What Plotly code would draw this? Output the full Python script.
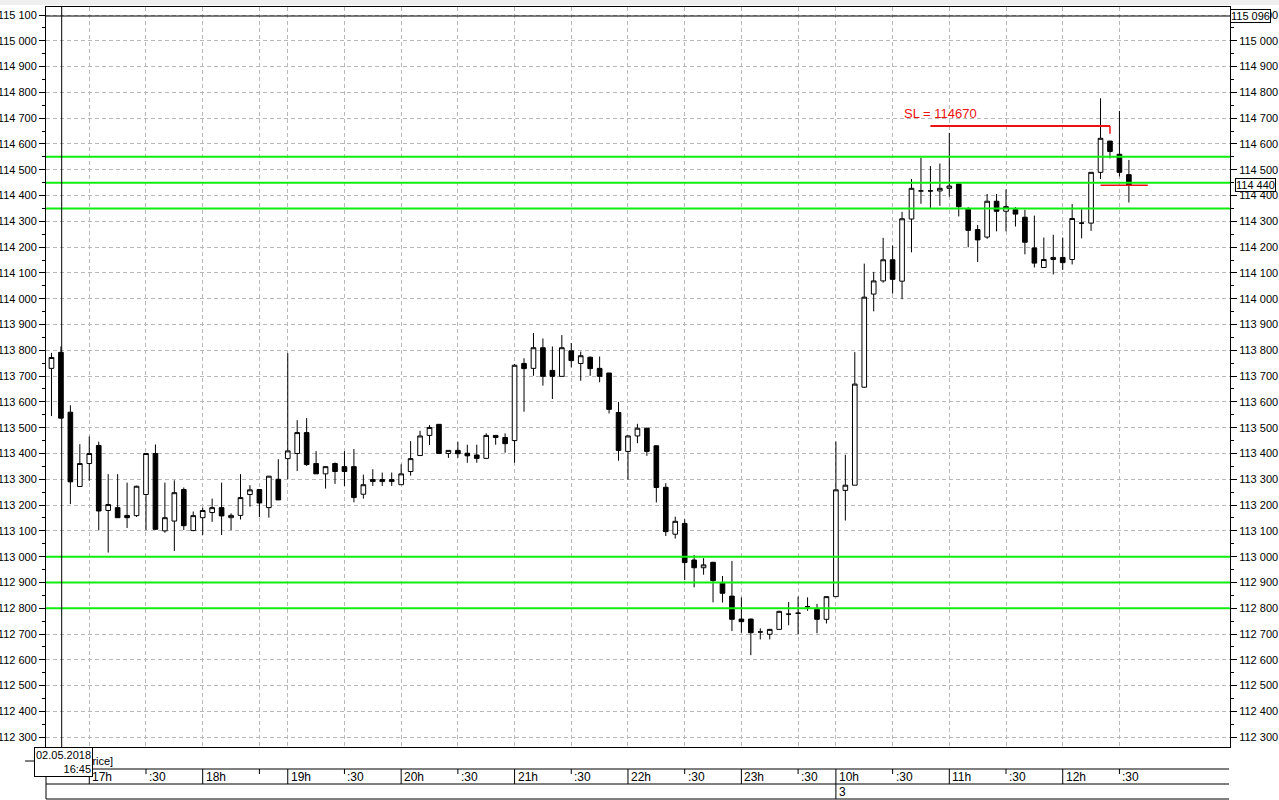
import pandas as pd
import plotly.graph_objects as go

# 5-minute candles, 02.05.2018 16:40 -> 03.05.2018 12:35 (sessions only)
sessions = [
    ("2018-05-02 16:40", "2018-05-02 18:40"),
    ("2018-05-02 19:00", "2018-05-02 23:45"),
    ("2018-05-03 10:00", "2018-05-03 12:35"),
]
times = pd.DatetimeIndex([])
for start, end in sessions:
    times = times.append(pd.date_range(start, end, freq="5min"))

opens = [113730, 113792, 113560, 113272, 113361, 113431, 113179, 113190, 113160, 113159,
         113241, 113400, 113100, 113138, 113260, 113101, 113151, 113171, 113190, 113151,
         113160, 113241, 113260, 113190, 113300, 113380, 113400, 113481, 113361, 113321,
         113361, 113349, 113349, 113242, 113291, 113291, 113291, 113279, 113330, 113392,
         113470, 113513, 113400, 113412, 113401, 113394, 113381, 113470, 113462, 113450,
         113749, 113730, 113810, 113722, 113699, 113798, 113749, 113773, 113730, 113712,
         113559, 113408, 113468, 113498, 113430, 113269, 113087, 113129, 112987, 112957,
         112978, 112897, 112847, 112758, 112758, 112708, 112699, 112718, 112777, 112780,
         112806, 112796, 112757, 112845, 113257, 113277, 113657, 114018, 114069, 114151,
         114068, 114309, 114418, 114418, 114418, 114428, 114445, 114347, 114268, 114239,
         114378, 114339, 114345, 114316, 114197, 114121, 114152, 114160, 114152, 114293,
         114293, 114490, 114611, 114560, 114481]
highs = [113790, 113815, 113587, 113436, 113466, 113446, 113320, 113320, 113287, 113275,
         113402, 113435, 113287, 113296, 113268, 113175, 113190, 113225, 113287, 113168,
         113320, 113277, 113262, 113312, 113378, 113789, 113529, 113537, 113409, 113349,
         113365, 113409, 113417, 113318, 113339, 113326, 113326, 113358, 113448, 113488,
         113510, 113513, 113412, 113445, 113434, 113434, 113478, 113470, 113478, 113747,
         113769, 113867, 113846, 113815, 113859, 113828, 113795, 113776, 113776, 113712,
         113600, 113470, 113515, 113500, 113430, 113285, 113155, 113145, 113006, 112994,
         112980, 112925, 112983, 112842, 112760, 112722, 112720, 112790, 112824, 112845,
         112842, 112817, 112845, 113446, 113395, 113793, 114136, 114104, 114236, 114206,
         114337, 114464, 114546, 114514, 114524, 114643, 114448, 114355, 114286, 114406,
         114406, 114424, 114355, 114345, 114322, 114237, 114248, 114237, 114367, 114347,
         114490, 114777, 114612, 114728, 114538]
lows = [113545, 113535, 113204, 113270, 113294, 113103, 113016, 113150, 113111, 113154,
        113103, 113103, 113093, 113022, 113103, 113100, 113084, 113135, 113084, 113103,
        113144, 113194, 113153, 113151, 113220, 113300, 113332, 113352, 113321, 113264,
        113282, 113274, 113211, 113225, 113274, 113274, 113274, 113279, 113314, 113392,
        113433, 113400, 113383, 113383, 113364, 113364, 113381, 113434, 113403, 113364,
        113562, 113701, 113663, 113611, 113699, 113734, 113682, 113701, 113676, 113555,
        113372, 113298, 113440, 113391, 113210, 113080, 113070, 112909, 112881, 112930,
        112823, 112822, 112712, 112705, 112618, 112679, 112679, 112718, 112734, 112700,
        112790, 112703, 112741, 112845, 113140, 113277, 113655, 113951, 114062, 114020,
        113998, 114180, 114368, 114352, 114360, 114396, 114319, 114199, 114142, 114232,
        114261, 114261, 114280, 114172, 114121, 114121, 114094, 114112, 114133, 114234,
        114263, 114464, 114544, 114474, 114373]
closes = [113772, 113537, 113290, 113361, 113400, 113177, 113202, 113151, 113151, 113273,
          113400, 113106, 113151, 113248, 113120, 113159, 113179, 113190, 113158, 113160,
          113229, 113259, 113208, 113312, 113220, 113410, 113481, 113357, 113321, 113349,
          113330, 113330, 113229, 113279, 113299, 113299, 113299, 113321, 113380, 113468,
          113501, 113400, 113412, 113399, 113391, 113381, 113470, 113462, 113438, 113742,
          113729, 113810, 113699, 113699, 113810, 113760, 113779, 113729, 113699, 113571,
          113412, 113468, 113498, 113408, 113268, 113097, 113137, 112977, 112957, 112968,
          112907, 112858, 112757, 112748, 112705, 112708, 112718, 112788, 112777, 112781,
          112806, 112757, 112845, 113259, 113277, 113669, 114006, 114069, 114151, 114075,
          114310, 114428, 114418, 114418, 114428, 114437, 114357, 114265, 114228, 114378,
          114339, 114357, 114328, 114219, 114138, 114152, 114160, 114140, 114311, 114293,
          114490, 114622, 114571, 114490, 114440]

# time-axis ticks (label "" = tick without text)
tick_times = ["2018-05-02 17:00", "2018-05-02 17:30", "2018-05-02 18:00", "2018-05-02 18:30",
              "2018-05-02 19:00", "2018-05-02 19:30", "2018-05-02 20:00", "2018-05-02 20:30",
              "2018-05-02 21:00", "2018-05-02 21:30", "2018-05-02 22:00", "2018-05-02 22:30",
              "2018-05-02 23:00", "2018-05-02 23:30", "2018-05-03 10:00", "2018-05-03 10:30",
              "2018-05-03 11:00", "2018-05-03 11:30", "2018-05-03 12:00", "2018-05-03 12:30"]
tick_labels = ["17h", ":30", "18h", "", "19h", ":30", "20h", ":30", "21h", ":30", "22h", ":30",
               "23h", ":30", "10h", ":30", "11h", ":30", "12h", ":30"]

# levels
green_levels = [114550, 114450, 114350, 113000, 112900, 112800]
sl_price = 114670
sl_from, sl_to = "2018-05-03 10:50", "2018-05-03 12:25"
last_price = 114440
cross_price = 115096
cross_time = "2018-05-02 16:45"

# figure geometry (pixels)
W, H = 1279, 800
L, R, T, B = 46, 49, 7, 53
PW, PH = W - L - R, H - T - B


def px_x(px):
    return (px - L) / PW


def px_y(py):
    return (H - B - py) / PH


idx = list(range(len(times)))
pos = {t: i for i, t in enumerate(times)}
tick_idx = [pos[pd.Timestamp(t)] for t in tick_times]

fig = go.Figure()
fig.add_trace(go.Candlestick(
    x=idx, open=opens, high=highs, low=lows, close=closes,
    increasing=dict(fillcolor="white", line=dict(color="black", width=1)),
    decreasing=dict(fillcolor="black", line=dict(color="black", width=1)),
    whiskerwidth=0, hoverinfo="skip", showlegend=False,
))
# dummy trace for the right price axis
fig.add_trace(go.Scatter(x=[None], y=[None], yaxis="y2", showlegend=False, hoverinfo="skip"))

shapes = []
for lvl in green_levels:
    shapes.append(dict(type="line", xref="paper", x0=0, x1=1, yref="y", y0=lvl, y1=lvl,
                       line=dict(color="#10ee10", width=2)))

# stop-loss line
sl_x0, sl_x1 = pos[pd.Timestamp(sl_from)], pos[pd.Timestamp(sl_to)]
shapes.append(dict(type="line", xref="x", x0=sl_x0, x1=sl_x1, yref="y", y0=sl_price, y1=sl_price,
                   line=dict(color="#ee1111", width=2)))
shapes.append(dict(type="line", xref="x", x0=sl_x1, x1=sl_x1, yref="y", y0=sl_price, y1=sl_price - 30,
                   line=dict(color="#ee1111", width=1.5)))
# last price marker
last_i = len(times) - 1
shapes.append(dict(type="line", xref="x", x0=last_i - 3.0, x1=last_i + 2.0, yref="y",
                   y0=last_price, y1=last_price, line=dict(color="#ee1111", width=1.5)))

# crosshair
ci = pos[pd.Timestamp(cross_time)]
shapes.append(dict(type="line", xref="paper", x0=0, x1=1, yref="y", y0=cross_price, y1=cross_price,
                   line=dict(color="black", width=1)))
shapes.append(dict(type="line", xref="x", x0=ci + 0.08, x1=ci + 0.08, yref="paper", y0=0, y1=1,
                   line=dict(color="black", width=1)))

# bottom rows: [price] strip, time labels, day labels
for py in [769, 784, 799]:
    shapes.append(dict(type="line", xref="paper", x0=0, x1=px_x(1229), yref="paper",
                       y0=px_y(py), y1=px_y(py), line=dict(color="black", width=1)))
shapes.append(dict(type="line", xref="paper", x0=0, x1=0, yref="paper", y0=0, y1=px_y(799),
                   line=dict(color="black", width=1)))
shapes.append(dict(type="line", xref="paper", x0=px_x(25), x1=px_x(34), yref="paper",
                   y0=px_y(761), y1=px_y(761), line=dict(color="black", width=1)))
# top strip
shapes.append(dict(type="rect", xref="paper", x0=px_x(0), x1=px_x(W), yref="paper",
                   y0=px_y(0), y1=px_y(5), fillcolor="#efefef", line=dict(width=0), layer="below"))

annotations = []
for ti, lab in zip(tick_idx, tick_labels):
    if lab.endswith("h"):
        bottom = 799 if lab == "10h" else 784
        shapes.append(dict(type="line", xref="x", x0=ti, x1=ti, yref="paper",
                           y0=px_y(769), y1=px_y(bottom), line=dict(color="black", width=1)))
    else:
        shapes.append(dict(type="line", xref="x", x0=ti, x1=ti, yref="paper",
                           y0=px_y(769), y1=px_y(774), line=dict(color="black", width=1)))
    if lab:
        annotations.append(dict(x=ti, xref="x", y=px_y(777), yref="paper", text=lab,
                                xanchor="left", yanchor="middle", xshift=1, showarrow=False,
                                font=dict(size=12)))

annotations.append(dict(x=pos[pd.Timestamp("2018-05-03 10:00")], xref="x", y=px_y(792), yref="paper",
                        text="3", xanchor="left", yanchor="middle", xshift=1, showarrow=False,
                        font=dict(size=12)))
annotations.append(dict(x=px_x(80), xref="paper", y=px_y(761), yref="paper", text="[Price]",
                        xanchor="left", yanchor="middle", showarrow=False, font=dict(size=11)))
annotations.append(dict(x=px_x(34), xref="paper", y=px_y(747), yref="paper",
                        text="02.05.2018<br>16:45", align="right", xanchor="left", yanchor="top",
                        showarrow=False, bgcolor="white", bordercolor="black", borderwidth=1,
                        borderpad=1, font=dict(size=11)))
annotations.append(dict(x=90, xref="x", y=114720, yref="y", text="SL = 114670",
                        xanchor="left", yanchor="middle", showarrow=False,
                        font=dict(size=13, color="#ee1111")))
annotations.append(dict(x=1, xref="paper", y=cross_price, yref="y", text="115 096",
                        xanchor="left", yanchor="middle", xshift=0, showarrow=False,
                        bgcolor="white", bordercolor="black", borderwidth=1, borderpad=0,
                        font=dict(size=11)))
annotations.append(dict(x=1, xref="paper", y=last_price, yref="y", text="114 440",
                        xanchor="left", yanchor="middle", xshift=5, showarrow=False,
                        bgcolor="white", bordercolor="black", borderwidth=1, borderpad=0,
                        font=dict(size=11)))

yvals = list(range(112300, 115101, 100))
ytext = [f"{v:,}".replace(",", " ") for v in yvals]
yrange = [112262, 115131]
yaxis_common = dict(
    range=yrange, tickvals=yvals, ticktext=ytext, ticks="outside", ticklen=6,
    tickcolor="black", tickfont=dict(size=11, color="black"),
    minor=dict(ticks="outside", ticklen=3, tickcolor="black", dtick=50, tick0=0, showgrid=False),
    showline=True, linecolor="black", linewidth=1, zeroline=False, automargin=False,
)

fig.update_layout(
    width=W, height=H, autosize=False,
    margin=dict(l=L, r=R, t=T, b=B, pad=0),
    paper_bgcolor="white", plot_bgcolor="white",
    font=dict(family="Liberation Sans, Arial, sans-serif", color="black"),
    xaxis=dict(range=[-0.58, 124.7], tickvals=tick_idx, showticklabels=False, ticks="",
               showgrid=True, gridcolor="#b8b8b8", griddash="4px,3px", gridwidth=1,
               showline=True, linecolor="black", mirror=True, zeroline=False,
               rangeslider=dict(visible=False), automargin=False),
    yaxis=dict(side="left", showgrid=True, gridcolor="#b8b8b8", griddash="4px,3px",
               **yaxis_common),
    yaxis2=dict(side="right", overlaying="y", showgrid=False, **yaxis_common),
    shapes=shapes,
    annotations=annotations,
    showlegend=False,
    hovermode=False,
)

# the page body has a default 8px margin; drop it so the figure fills the window
fig.write_html("out.html", config={"displayModeBar": False},
               post_script="document.body.style.margin='0px';document.body.style.overflow='hidden';")
